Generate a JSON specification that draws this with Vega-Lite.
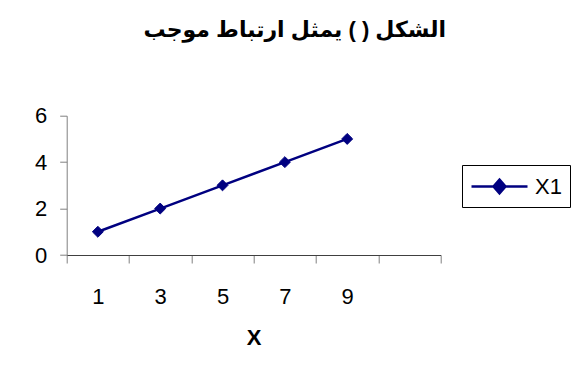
{
  "$schema": "https://vega.github.io/schema/vega-lite/v6.json",
  "autosize": "none",
  "width": 374,
  "height": 139.3,
  "padding": {"left": 66.7, "top": 115.7, "right": 132.3, "bottom": 134},
  "background": "white",
  "title": {
    "text": "الشكل ( ) يمثل ارتباط موجب",
    "font": "Liberation Sans, DejaVu Sans",
    "fontSize": 22,
    "fontWeight": "bold",
    "color": "black",
    "anchor": "middle",
    "frame": "group",
    "dx": 41,
    "offset": 63
  },
  "data": {
    "values": [
      {"x": 1, "y": 1, "series": "X1"},
      {"x": 3, "y": 2, "series": "X1"},
      {"x": 5, "y": 3, "series": "X1"},
      {"x": 7, "y": 4, "series": "X1"},
      {"x": 9, "y": 5, "series": "X1"}
    ]
  },
  "encoding": {
    "x": {
      "field": "x",
      "type": "ordinal",
      "bandPosition": 0.5,
      "scale": {"type": "band", "domain": [1, 3, 5, 7, 9, 11], "paddingInner": 0, "paddingOuter": 0},
      "axis": {
        "title": "X",
        "titleFont": "Liberation Sans",
        "titleFontSize": 22,
        "titleFontWeight": "bold",
        "titleColor": "black",
        "titlePadding": 20,
        "labelExpr": "datum.value == 11 ? '' : datum.label",
        "labelAngle": 0,
        "labelFont": "Liberation Sans",
        "labelFontSize": 22,
        "labelColor": "black",
        "labelBaseline": "middle",
        "labelPadding": 33,
        "tickBand": "extent",
        "tickSize": 8,
        "tickColor": "#808080",
        "domainColor": "#404040",
        "grid": false
      }
    },
    "y": {
      "field": "y",
      "type": "quantitative",
      "scale": {"domain": [0, 6], "nice": false},
      "axis": {
        "title": null,
        "values": [0, 2, 4, 6],
        "labelFont": "Liberation Sans",
        "labelFontSize": 22,
        "labelColor": "black",
        "labelPadding": 13,
        "tickSize": 7,
        "tickColor": "#808080",
        "domainColor": "#808080",
        "grid": false
      }
    }
  },
  "layer": [
    {
      "mark": {"type": "line", "color": "#000080", "strokeWidth": 2.5},
      "encoding": {}
    },
    {
      "mark": {"type": "point", "shape": "diamond", "filled": true, "size": 120, "opacity": 1, "stroke": "#000080", "strokeWidth": 1},
      "encoding": {
        "color": {
          "field": "series",
          "type": "nominal",
          "scale": {"range": ["#000080"]},
          "legend": {
            "title": null,
            "orient": "none",
            "legendX": 395.3,
            "legendY": 49.3,
            "strokeColor": "black",
            "padding": 8,
            "symbolType": "M-1,0H3.667M1.333,-0.58L1.833,0L1.333,0.58L0.833,0Z",
            "symbolSize": 576,
            "symbolStrokeWidth": 2.5,
            "symbolStrokeColor": "#000080",
            "symbolFillColor": "#000080",
            "labelFont": "Liberation Sans",
            "labelFontSize": 22,
            "labelColor": "black",
            "labelOffset": 38,
            "encode": {"symbols": {"update": {"stroke": {"value": "#000080"}, "strokeWidth": {"value": 2.5}, "fill": {"value": "#000080"}}}}
          }
        }
      }
    }
  ],
  "config": {"view": {"stroke": null}}
}
